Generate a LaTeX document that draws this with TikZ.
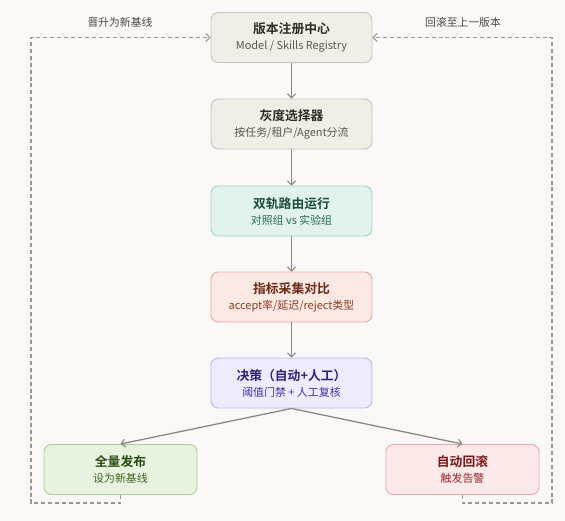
\documentclass[tikz,border=0pt]{standalone}
\usepackage{fontspec}
\setmainfont{Noto Sans CJK SC}[BoldFont={* Bold}]
\usetikzlibrary{arrows.meta}
\definecolor{bgc}{HTML}{FAF9F7}
\definecolor{grayfill}{HTML}{F1EEE8}
\definecolor{grayline}{HTML}{CBC5BB}
\definecolor{graytxt}{HTML}{2F2B26}
\definecolor{graysub}{HTML}{5A554E}
\definecolor{greenfill}{HTML}{E1F3EC}
\definecolor{greenline}{HTML}{A3D3BF}
\definecolor{greentxt}{HTML}{1C4D3B}
\definecolor{greensub}{HTML}{2A6A52}
\definecolor{orfill}{HTML}{FBEAE3}
\definecolor{orline}{HTML}{E3AE9D}
\definecolor{ortxt}{HTML}{6E2A17}
\definecolor{orsub}{HTML}{8E3A22}
\definecolor{pufill}{HTML}{EEEBFC}
\definecolor{puline}{HTML}{BDB5EF}
\definecolor{putxt}{HTML}{2F2578}
\definecolor{pusub}{HTML}{40369A}
\definecolor{lgfill}{HTML}{E9F2DF}
\definecolor{lgline}{HTML}{B0CC98}
\definecolor{lgtxt}{HTML}{2A4A12}
\definecolor{lgsub}{HTML}{3F6422}
\definecolor{rdfill}{HTML}{FCE9E9}
\definecolor{rdline}{HTML}{E3A9A9}
\definecolor{rdtxt}{HTML}{7A1818}
\definecolor{rdsub}{HTML}{952626}
\definecolor{arrc}{HTML}{8A8782}
\definecolor{dashc}{HTML}{9A9792}
\definecolor{lbltxt}{HTML}{4A4741}
\tikzset{
  box/.style={draw, rounded corners=5.5pt, line width=0.7pt, minimum width=120.75pt, minimum height=37.5pt, align=center, inner sep=0pt},
  sbox/.style={box, minimum width=114.75pt},
  flow/.style={draw=arrc, line width=0.95pt, -{Straight Barb[length=3pt,width=6pt,line width=0.8pt]}},
  loop/.style={draw=dashc, line width=0.95pt, dash pattern=on 3pt off 2.2pt, -{Straight Barb[length=3pt,width=6pt,line width=0.8pt]}},
  lbl/.style={text=lbltxt, font=\fontsize{8.1}{10}\selectfont, inner sep=0pt}
}
\newcommand{\ttl}[2]{{\bfseries\fontsize{9.6}{13.3}\selectfont #1}\\{\fontsize{8.2}{13.3}\selectfont #2}}
\begin{document}
\begin{tikzpicture}[x=0.75pt,y=-0.75pt]
\fill[bgc] (0,0) rectangle (565,521);
\useasboundingbox (0,0) rectangle (565,521);
\node[box, fill=grayfill, draw=grayline, text=graytxt] (n1) at (291.5,37.5) {\ttl{版本注册中心}{\color{graysub}Model / Skills Registry}};
\node[box, fill=grayfill, draw=grayline, text=graytxt] (n2) at (291.5,124) {\ttl{灰度选择器}{\color{graysub}按任务/租户/Agent分流}};
\node[box, fill=greenfill, draw=greenline, text=greentxt] (n3) at (291.5,211) {\ttl{双轨路由运行}{\color{greensub}对照组 vs 实验组}};
\node[box, fill=orfill, draw=orline, text=ortxt] (n4) at (291.5,297) {\ttl{指标采集对比}{\color{orsub}accept率/延迟/reject类型}};
\node[box, fill=pufill, draw=puline, text=putxt] (n5) at (291.5,383) {\ttl{决策（自动+人工）}{\color{pusub}阈值门禁 + 人工复核}};
\node[sbox, fill=lgfill, draw=lgline, text=lgtxt] (n6) at (120.5,469.5) {\ttl{全量发布}{\color{lgsub}设为新基线}};
\node[sbox, fill=rdfill, draw=rdline, text=rdtxt] (n7) at (462.5,469.5) {\ttl{自动回滚}{\color{rdsub}触发告警}};
\draw[flow] (n1) -- (n2);
\draw[flow] (n2) -- (n3);
\draw[flow] (n3) -- (n4);
\draw[flow] (n4) -- (n5);
\draw[flow] (n5.south) -- (n6.north);
\draw[flow] (n5.south) -- (n7.north);
\draw[loop] (n6.south) -- (120.5,503) -- (31,503) -- (31,37.5) -- (n1.west);
\draw[loop] (n7.south) -- (462.5,503) -- (552,503) -- (552,37.5) -- (n1.east);
\node[lbl] (l1) at (120,22) {晋升为新基线};
\node[lbl] (l2) at (463,22) {回滚至上一版本};
\end{tikzpicture}
\end{document}
